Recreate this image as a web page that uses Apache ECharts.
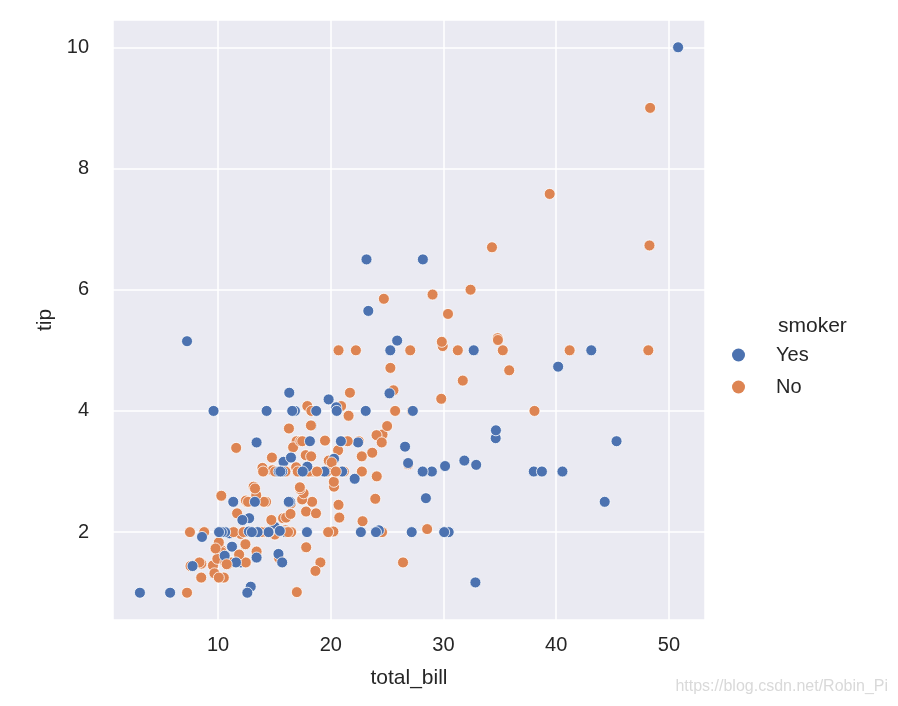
<!DOCTYPE html>
<html>
<head>
<meta charset="utf-8">
<script src="https://cdn.jsdelivr.net/npm/echarts@6/dist/echarts.min.js"></script>
<style>
  html, body { margin: 0; padding: 0; background: #fff; }
  #chart { width: 898px; height: 706px; }
</style>
</head>
<body>
<div id="chart"></div>
<script>
// tips 数据: total_bill / tip / smoker (按原始行顺序)
const totalBill = [16.99,10.34,21.01,23.68,24.59,25.29,8.77,26.88,15.04,14.78,10.27,35.26,15.42,18.43,14.83,21.58,10.33,16.29,16.97,20.65,
  17.92,20.29,15.77,39.42,19.82,17.81,13.37,12.69,21.7,19.65,9.55,18.35,15.06,20.69,17.78,24.06,16.31,16.93,18.69,31.27,
  16.04,17.46,13.94,9.68,30.4,18.29,22.23,32.4,28.55,18.04,12.54,10.29,34.81,9.94,25.56,19.49,38.01,26.41,11.24,48.27,
  20.29,13.81,11.02,18.29,17.59,20.08,16.45,3.07,20.23,15.01,12.02,17.07,26.86,25.28,14.73,10.51,17.92,27.2,22.76,17.29,
  19.44,16.66,10.07,32.68,15.98,34.83,13.03,18.28,24.71,21.16,28.97,22.49,5.75,16.32,22.75,40.17,27.28,12.03,21.01,12.46,
  11.35,15.38,44.3,22.42,20.92,15.36,20.49,25.21,18.24,14.31,14.0,7.25,38.07,23.95,25.71,17.31,29.93,10.65,12.43,24.08,
  11.69,13.42,14.26,15.95,12.48,29.8,8.52,14.52,11.38,22.82,19.08,20.27,11.17,12.26,18.26,8.51,10.33,14.15,16.0,13.16,
  17.47,34.3,41.19,27.05,16.43,8.35,18.64,11.87,9.78,7.51,14.07,13.13,17.26,24.55,19.77,29.85,48.17,25.0,13.39,16.49,
  21.5,12.66,16.21,13.81,17.51,24.52,20.76,31.71,10.59,10.63,50.81,15.81,7.25,31.85,16.82,32.9,17.89,14.48,9.6,34.63,
  34.65,23.33,45.35,23.17,40.55,20.69,20.9,30.46,18.15,23.1,15.69,19.81,28.44,15.48,16.58,7.56,10.34,43.11,13.0,13.51,
  18.71,12.74,13.0,16.4,20.53,16.47,26.59,38.73,24.27,12.76,30.06,25.89,48.33,13.27,28.17,12.9,28.15,11.59,7.74,30.14,
  12.16,13.42,8.58,15.98,13.42,16.27,10.09,20.45,13.28,22.12,24.01,15.69,11.61,10.77,15.53,10.07,12.6,32.83,35.83,29.03,
  27.18,22.67,17.82,18.78];
const tip = [1.01,1.66,3.5,3.31,3.61,4.71,2.0,3.12,1.96,3.23,1.71,5.0,1.57,3.0,3.02,3.92,1.67,3.71,3.5,3.35,
  4.08,2.75,2.23,7.58,3.18,2.34,2.0,2.0,4.3,3.0,1.45,2.5,3.0,2.45,3.27,3.6,2.0,3.07,2.31,5.0,
  2.24,2.54,3.06,1.32,5.6,3.0,5.0,6.0,2.05,3.0,2.5,2.6,5.2,1.56,4.34,3.51,3.0,1.5,1.76,6.73,
  3.21,2.0,1.98,3.76,2.64,3.15,2.47,1.0,2.01,2.09,1.97,3.0,3.14,5.0,2.2,1.25,3.08,4.0,3.0,2.71,
  3.0,3.4,1.83,5.0,2.03,5.17,2.0,4.0,5.85,3.0,3.0,3.5,1.0,4.3,3.25,4.73,4.0,1.5,3.0,1.5,
  2.5,3.0,2.5,3.48,4.08,1.64,4.06,4.29,3.76,4.0,3.0,1.0,4.0,2.55,4.0,3.5,5.07,1.5,1.8,2.92,
  2.31,1.68,2.5,2.0,2.52,4.2,1.48,2.0,2.0,2.18,1.5,2.83,1.5,2.0,3.25,1.25,2.0,2.0,2.0,2.75,
  3.5,6.7,5.0,5.0,2.3,1.5,1.36,1.63,1.73,2.0,2.5,2.0,2.74,2.0,2.0,5.14,5.0,3.75,2.61,2.0,
  3.5,2.5,2.0,2.0,3.0,3.48,2.24,4.5,1.61,2.0,10.0,3.16,5.15,3.18,4.0,3.11,2.0,2.0,4.0,3.55,
  3.68,5.65,3.5,6.5,3.0,5.0,3.5,2.0,3.5,4.0,1.5,4.19,2.56,2.02,4.0,1.44,2.0,5.0,2.0,2.0,
  4.0,2.01,2.0,2.5,4.0,3.23,3.41,3.0,2.03,2.23,2.0,5.16,9.0,2.5,6.5,1.1,3.0,1.5,1.44,3.09,
  2.2,3.48,1.92,3.0,1.58,2.5,2.0,3.0,2.72,2.88,2.0,3.0,3.39,1.47,3.0,1.25,1.0,1.17,4.67,5.92,
  2.0,2.0,1.75,3.0];
const smoker = ['No','No','No','No','No','No','No','No','No','No','No','No','No','No','No','No','No','No','No','No',
  'No','No','No','No','No','No','No','No','No','No','No','No','No','No','No','No','No','No','No','No',
  'No','No','No','No','No','No','No','No','No','No','No','No','No','No','No','No','Yes','No','Yes','No',
  'Yes','Yes','Yes','Yes','No','No','No','Yes','No','Yes','No','No','Yes','Yes','No','No','Yes','No','No','No',
  'Yes','No','No','Yes','No','No','No','No','No','No','Yes','No','Yes','Yes','No','Yes','Yes','Yes','Yes','No',
  'Yes','Yes','Yes','Yes','No','Yes','Yes','Yes','No','Yes','No','No','No','No','No','No','No','No','No','No',
  'No','No','No','No','No','No','No','No','No','No','No','No','No','No','No','No','No','No','Yes','No',
  'No','No','No','No','No','No','No','No','No','No','No','No','No','No','No','No','No','No','No','No',
  'No','No','No','No','Yes','No','No','No','Yes','Yes','Yes','Yes','Yes','Yes','Yes','Yes','Yes','Yes','Yes','Yes',
  'Yes','Yes','Yes','Yes','Yes','No','Yes','Yes','Yes','Yes','Yes','Yes','Yes','Yes','Yes','No','Yes','Yes','Yes','Yes',
  'Yes','Yes','Yes','Yes','Yes','Yes','Yes','Yes','Yes','Yes','Yes','Yes','No','Yes','Yes','Yes','Yes','Yes','Yes','Yes',
  'Yes','Yes','Yes','No','Yes','Yes','Yes','No','No','Yes','Yes','Yes','No','No','Yes','No','Yes','Yes','No','No',
  'Yes','Yes','No','No'];
const hueOrder = ['Yes', 'No'];
const hueColors = { Yes: '#4c72b0', No: '#dd8452' };

const chart = echarts.init(document.getElementById('chart'));

// 按原始顺序画点，颜色由 smoker 决定
const points = totalBill.map((b, i) => [b, tip[i], smoker[i]]);

// seaborn 默认 5% 边距
const pad = (arr) => {
  const lo = Math.min(...arr), hi = Math.max(...arr), m = (hi - lo) * 0.05;
  return [lo - m, hi + m];
};
const xr = pad(totalBill), yr = pad(tip);

const textColor = '#262626';
const font = 'Liberation Sans, Arial, sans-serif';

const option = {
  backgroundColor: '#fff',
  animation: false,
  grid: { left: 113, top: 20, width: 592, height: 600, backgroundColor: '#eaeaf2', show: true, borderWidth: 0 },
  xAxis: {
    type: 'value', min: xr[0], max: xr[1], splitNumber: 5,
    name: 'total_bill', nameLocation: 'middle', nameGap: 48,
    nameTextStyle: { color: textColor, fontSize: 21, fontFamily: font },
    axisLine: { show: false }, axisTick: { show: false },
    axisLabel: { color: textColor, fontSize: 20, fontFamily: font, margin: 15, showMinLabel: false, showMaxLabel: false },
    splitLine: { lineStyle: { color: '#fff', width: 1.5 } }
  },
  yAxis: {
    type: 'value', min: yr[0], max: yr[1], splitNumber: 5,
    name: 'tip', nameLocation: 'middle', nameGap: 54,
    nameTextStyle: { color: textColor, fontSize: 21, fontFamily: font },
    axisLine: { show: false }, axisTick: { show: false },
    axisLabel: { color: textColor, fontSize: 20, fontFamily: font, margin: 24, showMinLabel: false, showMaxLabel: false },
    splitLine: { lineStyle: { color: '#fff', width: 1.5 } }
  },
  legend: {
    data: hueOrder, orient: 'vertical', left: 727, top: 340, itemGap: 12,
    icon: 'circle', itemWidth: 13, itemHeight: 13,
    textStyle: { color: textColor, fontSize: 20, fontFamily: font, padding: [0, 0, 0, 26] },
    selectedMode: false
  },
  graphic: [
    { type: 'text', left: 778, top: 316, style: { text: 'smoker', fill: textColor, fontSize: 21, fontFamily: font } },
    { type: 'text', right: 10, top: 679, style: { text: 'https://blog.csdn.net/Robin_Pi', fill: '#d9d9d9', fontSize: 16, fontFamily: font } }
  ],
  series: [
    {
      type: 'scatter', data: points, symbolSize: 11,
      itemStyle: { color: (p) => hueColors[p.data[2]], borderColor: '#fff', borderWidth: 0.8, opacity: 1 },
      emphasis: { disabled: true }
    },
    ...hueOrder.map(h => ({ name: h, type: 'scatter', data: [], itemStyle: { color: hueColors[h], opacity: 1 } }))
  ]
};
chart.setOption(option);
</script>
</body>
</html>
